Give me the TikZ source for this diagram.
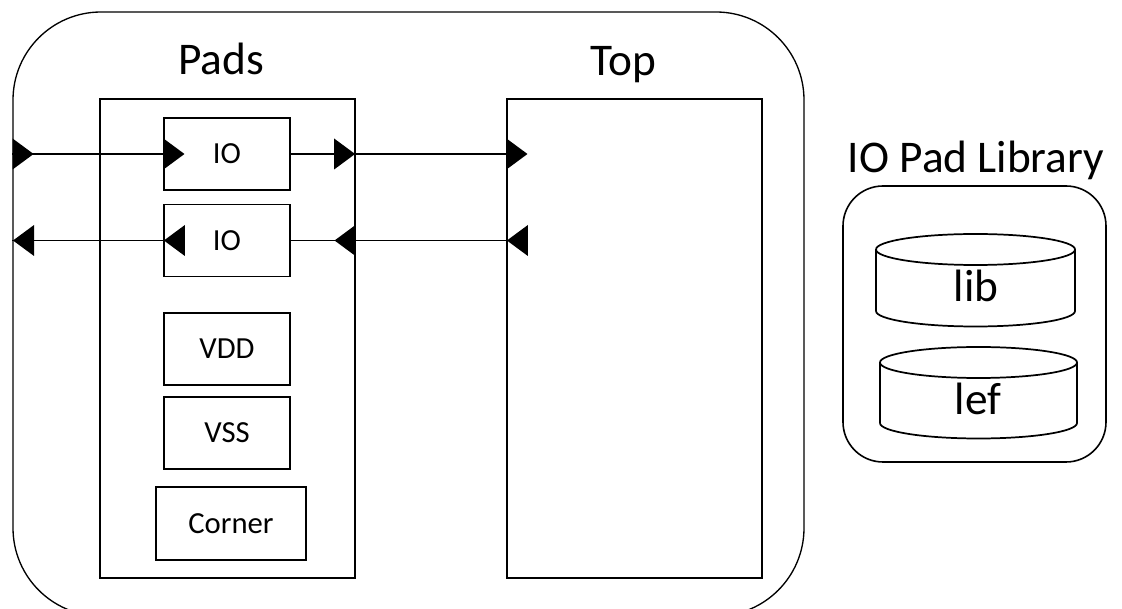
\documentclass[tikz,border=0pt]{standalone}
\usepackage{fontspec}
\setmainfont{Carlito}
\usepackage{tikz}
\usetikzlibrary{shapes.geometric}
\tikzstyle{boxB} = [rectangle, draw=black, line width=1.2pt, inner sep=0pt]
\tikzstyle{cellB} = [boxB, minimum width=94.5pt, minimum height=54pt, font=\fontsize{23}{26}\selectfont]
\tikzstyle{titleT} = [inner sep=0pt, anchor=base, font=\fontsize{34}{40}\selectfont]
\tikzstyle{triR} = [isosceles triangle, isosceles triangle stretches, fill=black, inner sep=0pt, minimum width=23.25pt, minimum height=15.75pt]
\tikzstyle{triL} = [triR, shape border rotate=180]
\tikzstyle{wire} = [line width=1.3pt]

\begin{document}
\begin{tikzpicture}[x=0.75pt,y=-0.75pt]
  \useasboundingbox (0,0) rectangle (1122,609);

  \node[boxB, line width=1pt, rounded corners=66pt, minimum width=593.25pt, minimum height=453pt] (outer) at (408.5,314) {};
  \node[boxB, minimum width=191.25pt, minimum height=359.25pt] (pads) at (227.5,338.5) {};
  \node[boxB, minimum width=191.25pt, minimum height=359.25pt] (top) at (634.5,338.5) {};

  \node[titleT] (padsT) at (221,75) {Pads};
  \node[titleT] (topT) at (623,76) {Top};

  \node[cellB] (io1) at (227,154) {IO};
  \node[cellB] (io2) at (227,240.5) {IO};
  \node[cellB] (vdd) at (227,349) {VDD};
  \node[cellB] (vss) at (227,433) {VSS};
  \node[cellB, minimum width=112.5pt, minimum height=54.75pt] (corner) at (231,523.5) {Corner};

  % in
  \draw[wire] (outer.west |- io1.west) -- (io1.west);
  \draw[wire] (io1.east) -- (top.west |- io1.east);
  \node[triR, anchor=lower side] at (outer.west |- io1.west) {};
  \node[triR, anchor=lower side] at (io1.west) {};
  \node[triR, anchor=apex] at (pads.east |- io1.east) {};
  \node[triR, anchor=lower side] at (top.west |- io1.east) {};

  % out
  \draw[wire] (io2.west) -- (outer.west |- io2.west);
  \draw[wire] (top.west |- io2.east) -- (io2.east);
  \node[triL, anchor=apex] at (outer.west |- io2.west) {};
  \node[triL, anchor=apex] at (io2.west) {};
  \node[triL, anchor=lower side] at (pads.east |- io2.east) {};
  \node[triL, anchor=apex] at (top.west |- io2.east) {};

  %IO Pad Library
  \node[titleT] (libT) at (976,173) {IO Pad Library};
  \node[boxB, rounded corners=30pt, minimum width=197.25pt, minimum height=207pt] (libbox) at (974.5,324) {};

  \draw[wire] (975.5,249.5) ellipse [x radius=99.5, y radius=15.5];
  \draw[wire] (876,249.5) -- (876,311) arc[start angle=180, end angle=0, x radius=99.5, y radius=15.5] -- (1075,249.5);
  \node[titleT] (lib) at (976,302) {lib};

  \draw[wire] (978.5,362.5) ellipse [x radius=98.5, y radius=15.5];
  \draw[wire] (880,362.5) -- (880,423) arc[start angle=180, end angle=0, x radius=98.5, y radius=15.5] -- (1077,362.5);
  \node[titleT] (lef) at (978,415) {lef};
\end{tikzpicture}
\end{document}
